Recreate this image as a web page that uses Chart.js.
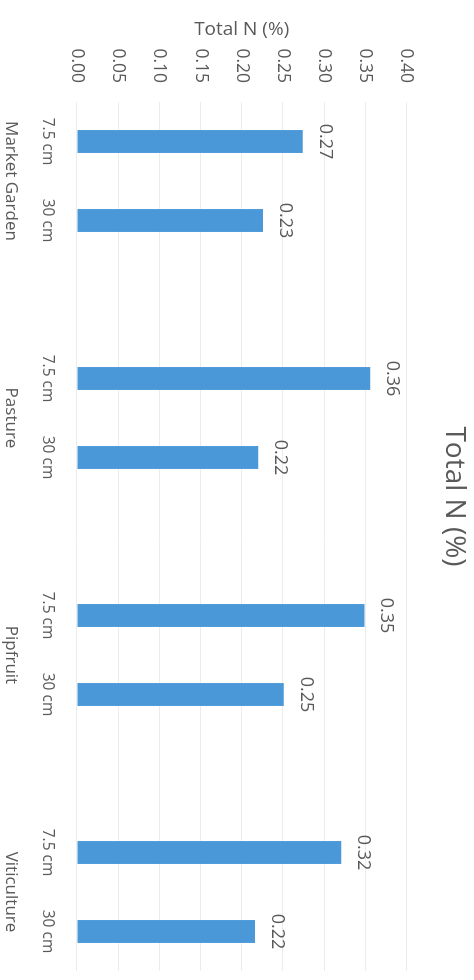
<!DOCTYPE html>
<html>
<head>
<meta charset="utf-8">
<script src="https://cdn.jsdelivr.net/npm/chart.js@4.4.1/dist/chart.umd.min.js"></script>
<style>
  html, body { margin: 0; padding: 0; background: #fff; overflow: hidden; }
  #wrap {
    position: absolute; left: 0; top: 0;
    width: 980px; height: 474px;
    transform-origin: 0 0;
    transform: translate(474px, 0) rotate(90deg);
  }
  canvas { display: block; }
</style>
</head>
<body>
<div id="wrap"><canvas id="totalN" width="980" height="474"></canvas></div>
<script>
// depth labels per bar, blank slot between land uses
var depthLabels = ['7.5 cm', '30 cm', '', '7.5 cm', '30 cm', '', '7.5 cm', '30 cm', '', '7.5 cm', '30 cm'];
var groupLabels = ['Market Garden', 'Pasture', 'Pipfruit', 'Viticulture'];
var groupPositions = [0.5, 3.5, 6.5, 9.5];
var totalN = [0.274, 0.226, null, 0.356, 0.22, null, 0.349, 0.251, null, 0.321, 0.216];
var yTicks = [0.00, 0.05, 0.10, 0.15, 0.20, 0.25, 0.30, 0.35, 0.40];

var textColor = '#595959';
var fontFamily = '"Open Sans", sans-serif';

// value labels above each bar
var barLabels = {
    id: 'barLabels',
    afterDatasetsDraw: function(chart) {
        var ctx = chart.ctx;
        var meta = chart.getDatasetMeta(0);
        ctx.save();
        ctx.fillStyle = textColor;
        ctx.font = '18px ' + fontFamily;
        ctx.textAlign = 'center';
        ctx.textBaseline = 'middle';
        meta.data.forEach(function(bar, i) {
            var v = totalN[i];
            if (v === null) return;
            ctx.fillText(v.toFixed(2), bar.x, bar.y - 22);
        });
        ctx.restore();
    }
};

var ctx = document.getElementById('totalN').getContext('2d');
var chart = new Chart(ctx, {
    type: 'bar',
    data: {
        labels: depthLabels,
        datasets: [{
            label: 'Total N (%)',
            data: totalN,
            backgroundColor: '#4a98d8',
            borderWidth: 0,
            barPercentage: 0.29,
            categoryPercentage: 1.0
        }]
    },
    options: {
        responsive: false,
        animation: false,
        devicePixelRatio: 1,
        layout: { padding: { left: 22, right: 9, top: 0, bottom: 0 } },
        plugins: {
            legend: { display: false },
            tooltip: { enabled: false },
            title: {
                display: true,
                text: 'Total N (%)',
                color: textColor,
                font: { family: fontFamily, size: 28, weight: 'normal' },
                padding: { top: 3, bottom: 31 }
            }
        },
        scales: {
            x: {
                type: 'category',
                position: 'bottom',
                grid: { display: false, drawTicks: false },
                border: { display: false },
                ticks: {
                    color: textColor,
                    font: { family: fontFamily, size: 15.5 },
                    padding: 20,
                    maxRotation: 0,
                    autoSkip: false
                },
                afterFit: function(scale) { scale.height = 50; }
            },
            x2: {
                type: 'linear',
                position: 'bottom',
                offset: false,
                min: -0.5,
                max: 10.5,
                grid: { display: false, drawTicks: false, offset: false },
                border: { display: false },
                afterBuildTicks: function(scale) {
                    scale.ticks = groupPositions.map(function(p) { return { value: p }; });
                },
                ticks: {
                    color: textColor,
                    font: { family: fontFamily, size: 17 },
                    padding: 6,
                    maxRotation: 0,
                    autoSkip: false,
                    callback: function(value) {
                        var i = groupPositions.indexOf(value);
                        return i >= 0 ? groupLabels[i] : '';
                    }
                },
                afterFit: function(scale) { scale.height = 27; }
            },
            y: {
                min: 0,
                max: 0.4,
                grid: { color: '#ececec', drawTicks: false },
                border: { display: false },
                afterBuildTicks: function(scale) {
                    scale.ticks = yTicks.map(function(v) { return { value: v }; });
                },
                ticks: {
                    color: textColor,
                    font: { family: fontFamily, size: 17.5 },
                    padding: 19,
                    callback: function(value) { return value.toFixed(2); }
                },
                title: {
                    display: true,
                    text: 'Total N (%)',
                    color: textColor,
                    font: { family: fontFamily, size: 19 },
                    padding: { top: -4, bottom: 0 }
                },
                afterFit: function(scale) { scale.width = 80; }
            }
        }
    },
    plugins: [barLabels]
});
</script>
</body>
</html>
